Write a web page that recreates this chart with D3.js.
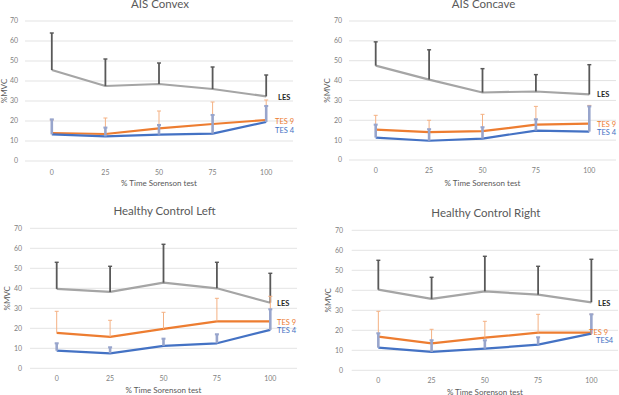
<!DOCTYPE html>
<html>
<head>
<meta charset="utf-8">
<script src="https://cdn.jsdelivr.net/npm/d3@7"></script>
<style>
  body { margin: 0; background: #fff; }
  svg { font-family: Lato, "Open Sans", sans-serif; }
</style>
</head>
<body>
<div id="chart"></div>
<script>
const times = [0, 25, 50, 75, 100];
const yTicks = [0, 10, 20, 30, 40, 50, 60, 70];

// AIS Convex
const convexLES = [45.5, 37.5, 38.5, 36, 32.3];
const convexLESsd = [18.5, 13.5, 10.5, 11, 10.7];
const convexTES9 = [14, 13.5, 16.3, 18.5, 20.5];
const convexTES9sd = [6.5, 8, 8.7, 11, 10];
const convexTES4 = [13.3, 12.3, 13.2, 13.7, 19.5];
const convexTES4sd = [7.5, 4.4, 4.8, 9.3, 8];

// AIS Concave
const concaveLES = [47.5, 40.5, 34, 34.5, 33];
const concaveLESsd = [12, 15, 12, 8.5, 15];
const concaveTES9 = [15.3, 14, 14.5, 17.8, 18.3];
const concaveTES9sd = [7.2, 6, 8.5, 9.2, 9.2];
const concaveTES4 = [11.3, 9.7, 10.8, 14.8, 14.3];
const concaveTES4sd = [6.5, 5.8, 5.7, 5.7, 12.7];

// Healthy Control Left
const leftLES = [39.7, 38.2, 42.8, 40, 32.8];
const leftLESsd = [13.3, 12.8, 19.2, 13, 14.7];
const leftTES9 = [17.7, 15.7, 19.7, 23.5, 23.5];
const leftTES9sd = [10.8, 8.3, 8.3, 11.5, 12.5];
const leftTES4 = [8.8, 7.5, 11.2, 12.5, 19.2];
const leftTES4sd = [3.7, 3, 3.6, 4.5, 10.3];

// Healthy Control Right
const rightLES = [40.3, 35.7, 39.5, 37.8, 34];
const rightLESsd = [14.7, 10.8, 17.5, 14.2, 21.5];
const rightTES9 = [16.8, 13.5, 16.3, 18.8, 18.8];
const rightTES9sd = [12.7, 7, 8.2, 9.2, 9.2];
const rightTES4 = [11.3, 9.2, 10.8, 12.8, 18.3];
const rightTES4sd = [7.2, 5.8, 4.2, 3.7, 9.7];

const colors = { les: "#a5a5a5", lesErr: "#595959", tes9: "#ed7d31", tes9Err: "#f4b183", tes4: "#4472c4", tes4Err: "#98a5cc" };

// panel layout (pixels) and label placement
const panels = [
  { title: "AIS Convex", left: 25, right: 293, top: 21, bottom: 161, titleY: 8, yLabelX: 7, tickX: 18, xTickY: 175, xTitleY: 186,
    les: convexLES, lesSd: convexLESsd, tes9: convexTES9, tes9Sd: convexTES9sd, tes4: convexTES4, tes4Sd: convexTES4sd,
    labels: [{ t: "LES", x: 278, y: 97 }, { t: "TES 9", x: 275, y: 121 }, { t: "TES 4", x: 275, y: 130 }] },
  { title: "AIS Concave", left: 349, right: 616, top: 21, bottom: 160, titleY: 8, yLabelX: 330, tickX: 342, xTickY: 173, xTitleY: 186,
    les: concaveLES, lesSd: concaveLESsd, tes9: concaveTES9, tes9Sd: concaveTES9sd, tes4: concaveTES4, tes4Sd: concaveTES4sd,
    labels: [{ t: "LES", x: 597, y: 94.5 }, { t: "TES 9", x: 597, y: 124.5 }, { t: "TES 4", x: 597, y: 132.5 }] },
  { title: "Healthy Control Left", left: 30, right: 297, top: 228.3, bottom: 368.3, titleY: 215, yLabelX: 10, tickX: 22, xTickY: 381, xTitleY: 393,
    les: leftLES, lesSd: leftLESsd, tes9: leftTES9, tes9Sd: leftTES9sd, tes4: leftTES4, tes4Sd: leftTES4sd,
    labels: [{ t: "LES", x: 277, y: 303.5 }, { t: "TES 9", x: 277, y: 322 }, { t: "TES 4", x: 277, y: 330.5 }] },
  { title: "Healthy Control Right", left: 351.7, right: 618, top: 230.3, bottom: 370.3, titleY: 217, yLabelX: 331, tickX: 343, xTickY: 383, xTitleY: 395,
    les: rightLES, lesSd: rightLESsd, tes9: rightTES9, tes9Sd: rightTES9sd, tes4: rightTES4, tes4Sd: rightTES4sd,
    labels: [{ t: "LES", x: 598, y: 303 }, { t: "TES 9", x: 589, y: 332.5 }, { t: "TES4", x: 596, y: 340 }] }
];

const svg = d3.select("#chart").append("svg").attr("width", 619).attr("height", 395);

function drawPanel(p) {
  const g = svg.append("g");
  const x = d3.scalePoint().domain(times).range([p.left, p.right]).padding(0.5);
  const y = d3.scaleLinear().domain([0, 70]).range([p.bottom, p.top]);

  // gridlines
  g.selectAll(".grid").data(yTicks).join("line")
    .attr("x1", p.left).attr("x2", p.right)
    .attr("y1", (d) => y(d)).attr("y2", (d) => y(d))
    .attr("stroke", "#d9d9d9").attr("stroke-width", 0.75);

  // y tick labels
  g.selectAll(".ytick").data(yTicks).join("text")
    .attr("x", p.tickX).attr("y", (d) => y(d)).attr("dy", "0.35em")
    .attr("text-anchor", "end").attr("font-size", 7).attr("fill", "#7f7f7f")
    .text((d) => d);

  // x tick labels
  g.selectAll(".xtick").data(times).join("text")
    .attr("x", (d) => x(d)).attr("y", p.xTickY)
    .attr("text-anchor", "middle").attr("font-size", 7).attr("fill", "#7f7f7f")
    .text((d) => d);

  g.append("text").attr("x", (p.left + p.right) / 2).attr("y", p.xTitleY)
    .attr("text-anchor", "middle").attr("font-size", 8).attr("fill", "#595959")
    .text("% Time Sorenson test");

  const cy = (p.top + p.bottom) / 2;
  g.append("text").attr("transform", `translate(${p.yLabelX},${cy}) rotate(-90)`)
    .attr("text-anchor", "middle").attr("font-size", 8).attr("fill", "#595959")
    .text("%MVC");

  g.append("text").attr("x", (p.left + p.right) / 2 + 1).attr("y", p.titleY)
    .attr("text-anchor", "middle").attr("font-size", 11.5).attr("fill", "#595959")
    .text(p.title);

  const series = [
    { m: p.les, sd: p.lesSd, c: colors.les, ec: colors.lesErr, ew: 1.8 },
    { m: p.tes9, sd: p.tes9Sd, c: colors.tes9, ec: colors.tes9Err, ew: 1 },
    { m: p.tes4, sd: p.tes4Sd, c: colors.tes4, ec: colors.tes4Err, ew: 2.6 }
  ];

  const line = d3.line().x((d, i) => x(times[i])).y((d) => y(d));

  series.forEach((s) => {
    g.append("path").datum(s.m).attr("d", line)
      .attr("fill", "none").attr("stroke", s.c).attr("stroke-width", 2.2)
      .attr("stroke-linejoin", "round");
  });

  series.forEach((s) => {
    const eg = g.append("g");
    s.m.forEach((v, i) => {
      const xx = x(times[i]);
      eg.append("line").attr("x1", xx).attr("x2", xx)
        .attr("y1", y(v)).attr("y2", y(v + s.sd[i]))
        .attr("stroke", s.ec).attr("stroke-width", s.ew);
      eg.append("line").attr("x1", xx - 2).attr("x2", xx + 2)
        .attr("y1", y(v + s.sd[i])).attr("y2", y(v + s.sd[i]))
        .attr("stroke", s.ec).attr("stroke-width", Math.max(1, s.ew * 0.8));
    });
  });

  const labelColors = { "LES": "#262626", "TES 9": colors.tes9, "TES 4": colors.tes4, "TES4": colors.tes4 };
  p.labels.forEach((l) => {
    g.append("text").attr("x", l.x).attr("y", l.y).attr("dy", "0.35em")
      .attr("font-size", 7.5).attr("font-weight", l.t === "LES" ? "bold" : "normal")
      .attr("fill", labelColors[l.t]).text(l.t);
  });
}

panels.forEach(drawPanel);
</script>
</body>
</html>
